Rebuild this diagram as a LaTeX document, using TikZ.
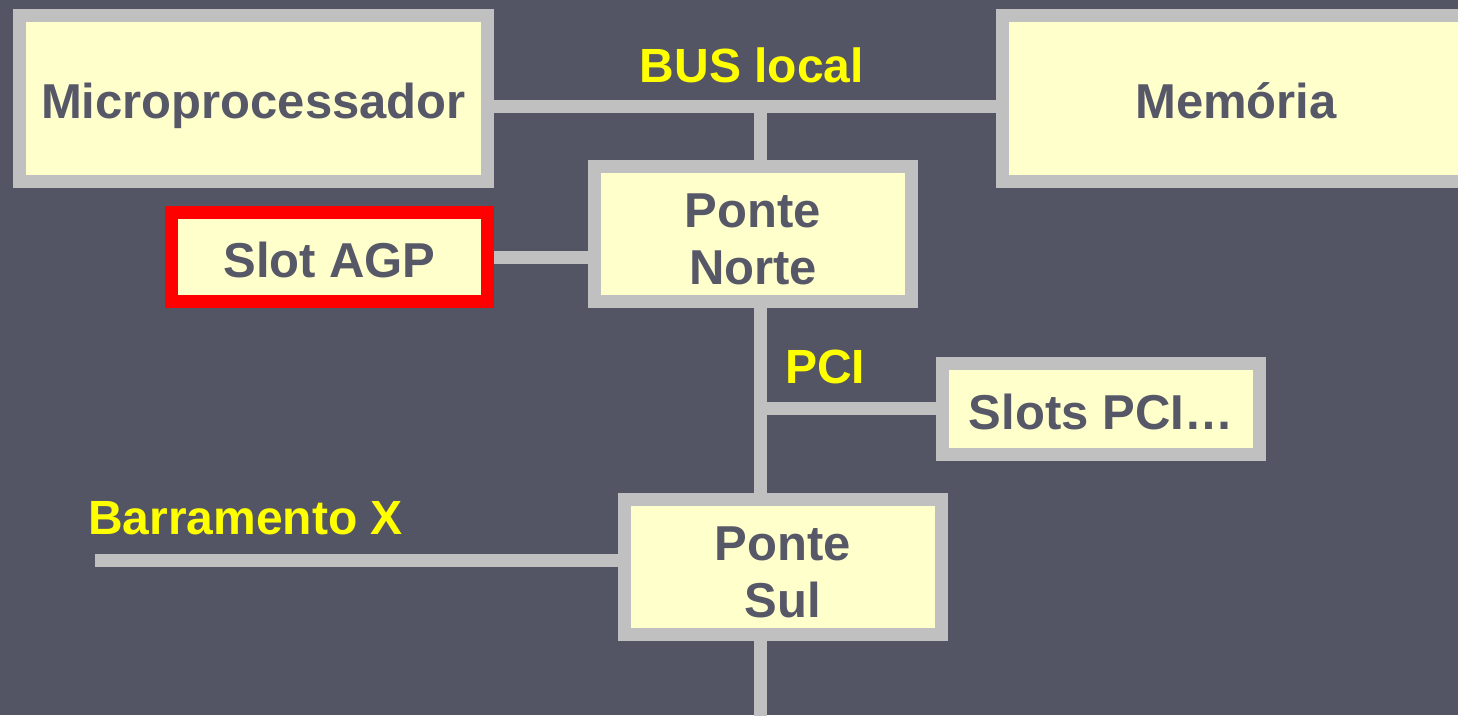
\documentclass[tikz,border=0pt]{standalone}
\usepackage{fontspec}
\setmainfont{Liberation Sans}
\usetikzlibrary{backgrounds}
\definecolor{slate}{RGB}{83,85,101}
\definecolor{boxfill}{RGB}{255,255,204}
\definecolor{boxline}{RGB}{192,192,192}
\definecolor{ink}{RGB}{86,88,104}
\definecolor{buslabel}{RGB}{255,255,0}
\begin{document}
\begin{tikzpicture}[x=1pt,y=-1pt,
  unit/.style={draw=boxline, line width=13pt, fill=boxfill, text=ink,
    font=\bfseries\fontsize{49}{57}\selectfont, align=center,
    inner sep=0pt, outer sep=0pt},
  oneline/.style={text height=40pt, text depth=0pt},
  twoline/.style={text height=100pt, text depth=0pt},
  bus/.style={draw=boxline, line width=13pt},
  buslbl/.style={text=buslabel, font=\bfseries\fontsize{48}{56}\selectfont,
    inner sep=0pt}]
\useasboundingbox (0,0) rectangle (1458,715);

% units
\node[unit, oneline, minimum width=468pt, minimum height=166pt] (cpu) at (253.5,98.5) {Microprocessador};
\node[unit, oneline, minimum width=467pt, minimum height=166pt] (mem) at (1236,98.5) {Memória};
\node[unit, oneline, draw=red, minimum width=316pt, minimum height=89pt] (agp) at (329.5,257) {Slot AGP};
\node[unit, twoline, minimum width=317pt, minimum height=135pt] (pn) at (753,234) {Ponte\\Norte};
\node[unit, oneline, minimum width=317pt, minimum height=91pt] (pci) at (1101,409) {Slots PCI…};
\node[unit, twoline, minimum width=317pt, minimum height=135pt] (ps) at (783,567) {Ponte\\Sul};

% bus labels
\node[buslbl] (buslocal) at (752,65) {BUS local};
\node[buslbl] (pcilbl) at (825,367) {PCI};
\node[buslbl, anchor=west] (xlbl) at (88,518) {Barramento X};

% bus lines behind the units
\coordinate (tap) at (760.5,106.5);
\coordinate (pcitap) at (760.5,408);
\coordinate (xend) at (95,560);
\coordinate (bottom) at (760.5,720);
\begin{scope}[on background layer]
  \fill[slate] (0,0) rectangle (1458,715);
  \draw[bus] (tap -| cpu.east) -- (tap -| mem.west);
  \draw[bus] (tap) -- (tap |- pn.north);
  \draw[bus] (agp.east) -- (agp.east -| pn.west);
  \draw[bus] (tap |- pn.south) -- (tap |- ps.north);
  \draw[bus] (pcitap) -- (pcitap -| pci.west);
  \draw[bus] (xend) -- (xend -| ps.west);
  \draw[bus] (tap |- ps.south) -- (bottom);
\end{scope}
\end{tikzpicture}
\end{document}
